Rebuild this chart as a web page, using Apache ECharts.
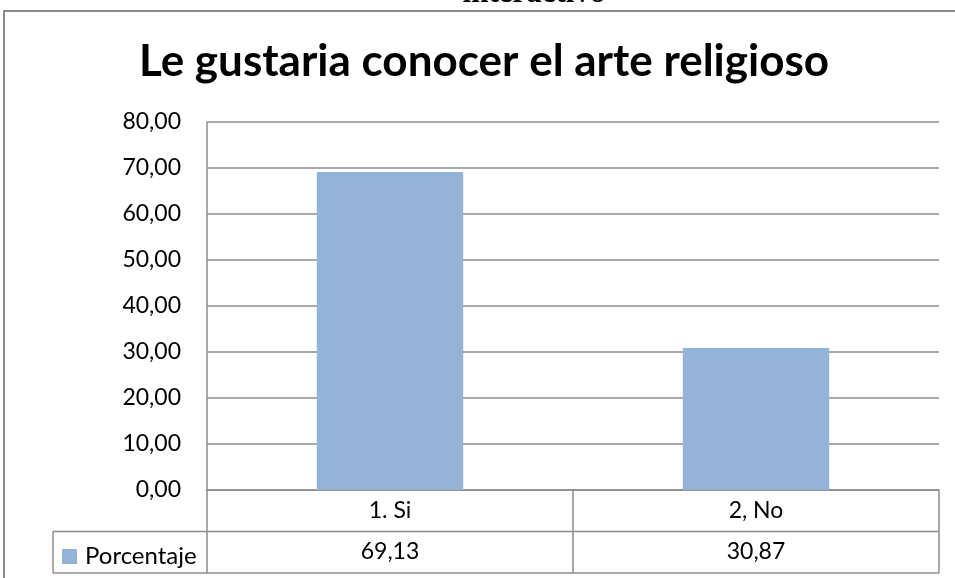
<!DOCTYPE html>
<html>
<head>
<meta charset="utf-8">
<script src="https://cdn.jsdelivr.net/npm/echarts@6/dist/echarts.min.js"></script>
<style>
html,body{margin:0;padding:0;background:#fff;}
#chart{width:955px;height:578px;}
</style>
</head>
<body>
<div id="chart"></div>
<script>
const titleText = 'Le gustaria conocer el arte religioso';
const headerText = 'interactivo';
const categories = ['1. Si', '2, No'];
const values = [69.13, 30.87];
const seriesName = 'Porcentaje';
const yMin = 0, yMax = 80, yInterval = 10;

const fmt = v => Number(v).toFixed(2).replace('.', ',');
const FONT = 'Lato';
const LINE = '#8c8c8c';
const gridLeft = 207, gridRight = 16, gridTop = 122, gridBottom = 88;
const W = 955, H = 578;
const axisY = H - gridBottom;
const rightX = W - gridRight;
const rowH = 41.5;
const legendLeft = 53;

const chart = echarts.init(document.getElementById('chart'), null, {renderer: 'canvas'});
chart.setOption({
  animation: false,
  backgroundColor: '#fff',
  legend: {
    data: [seriesName],
    left: 57,
    top: axisY + rowH + 8,
    icon: 'rect',
    itemWidth: 15,
    itemHeight: 15,
    itemGap: 0,
    textStyle: {fontFamily: FONT, fontSize: 24, color: '#000', padding: [0, 0, 0, 3]}
  },
  grid: {left: gridLeft, right: gridRight, top: gridTop, bottom: gridBottom, containLabel: false},
  xAxis: [{
    type: 'category',
    data: categories,
    axisLine: {show: true, lineStyle: {color: LINE, width: 1.5}},
    axisTick: {show: true, length: rowH * 2, lineStyle: {color: LINE, width: 1.5}},
    axisLabel: {margin: 9, fontFamily: FONT, fontSize: 23, color: '#000'}
  }, {
    type: 'category',
    data: categories,
    position: 'bottom',
    offset: rowH,
    axisLine: {show: false},
    axisTick: {show: false},
    axisLabel: {margin: 9, fontFamily: FONT, fontSize: 23, color: '#000',
      formatter: (v, i) => fmt(values[i])}
  }],
  yAxis: {
    type: 'value',
    min: yMin, max: yMax, interval: yInterval,
    axisLine: {show: true, lineStyle: {color: LINE, width: 1.5}},
    axisTick: {show: false},
    splitLine: {show: true, lineStyle: {color: LINE, width: 1.5}},
    axisLabel: {margin: 26, fontFamily: FONT, fontSize: 23, color: '#000', formatter: v => fmt(v)}
  },
  series: [{
    name: seriesName,
    type: 'bar',
    data: values,
    barWidth: '40%',
    itemStyle: {color: '#95b3d7'}
  }],
  graphic: [
    {type: 'rect', shape: {x: 4, y: 11, width: 1000, height: 700}, style: {fill: null, stroke: '#8a8a8a', lineWidth: 2}, z: 0, silent: true},
    {type: 'text', x: 534, y: 9, style: {text: headerText, font: 'bold 31px "Liberation Serif"', fill: '#000', align: 'center', verticalAlign: 'bottom'}},
    {type: 'text', x: 484, y: 84, style: {text: titleText, font: 'bold 44px Lato', fill: '#000', align: 'center', verticalAlign: 'bottom'}},
    {type: 'line', shape: {x1: legendLeft, y1: axisY + rowH, x2: rightX, y2: axisY + rowH}, style: {stroke: LINE, lineWidth: 1.5}},
    {type: 'line', shape: {x1: legendLeft, y1: axisY + rowH * 2, x2: rightX, y2: axisY + rowH * 2}, style: {stroke: LINE, lineWidth: 1.5}},
    {type: 'line', shape: {x1: legendLeft, y1: axisY + rowH, x2: legendLeft, y2: axisY + rowH * 2}, style: {stroke: LINE, lineWidth: 1.5}}
  ]
});
</script>
</body>
</html>
